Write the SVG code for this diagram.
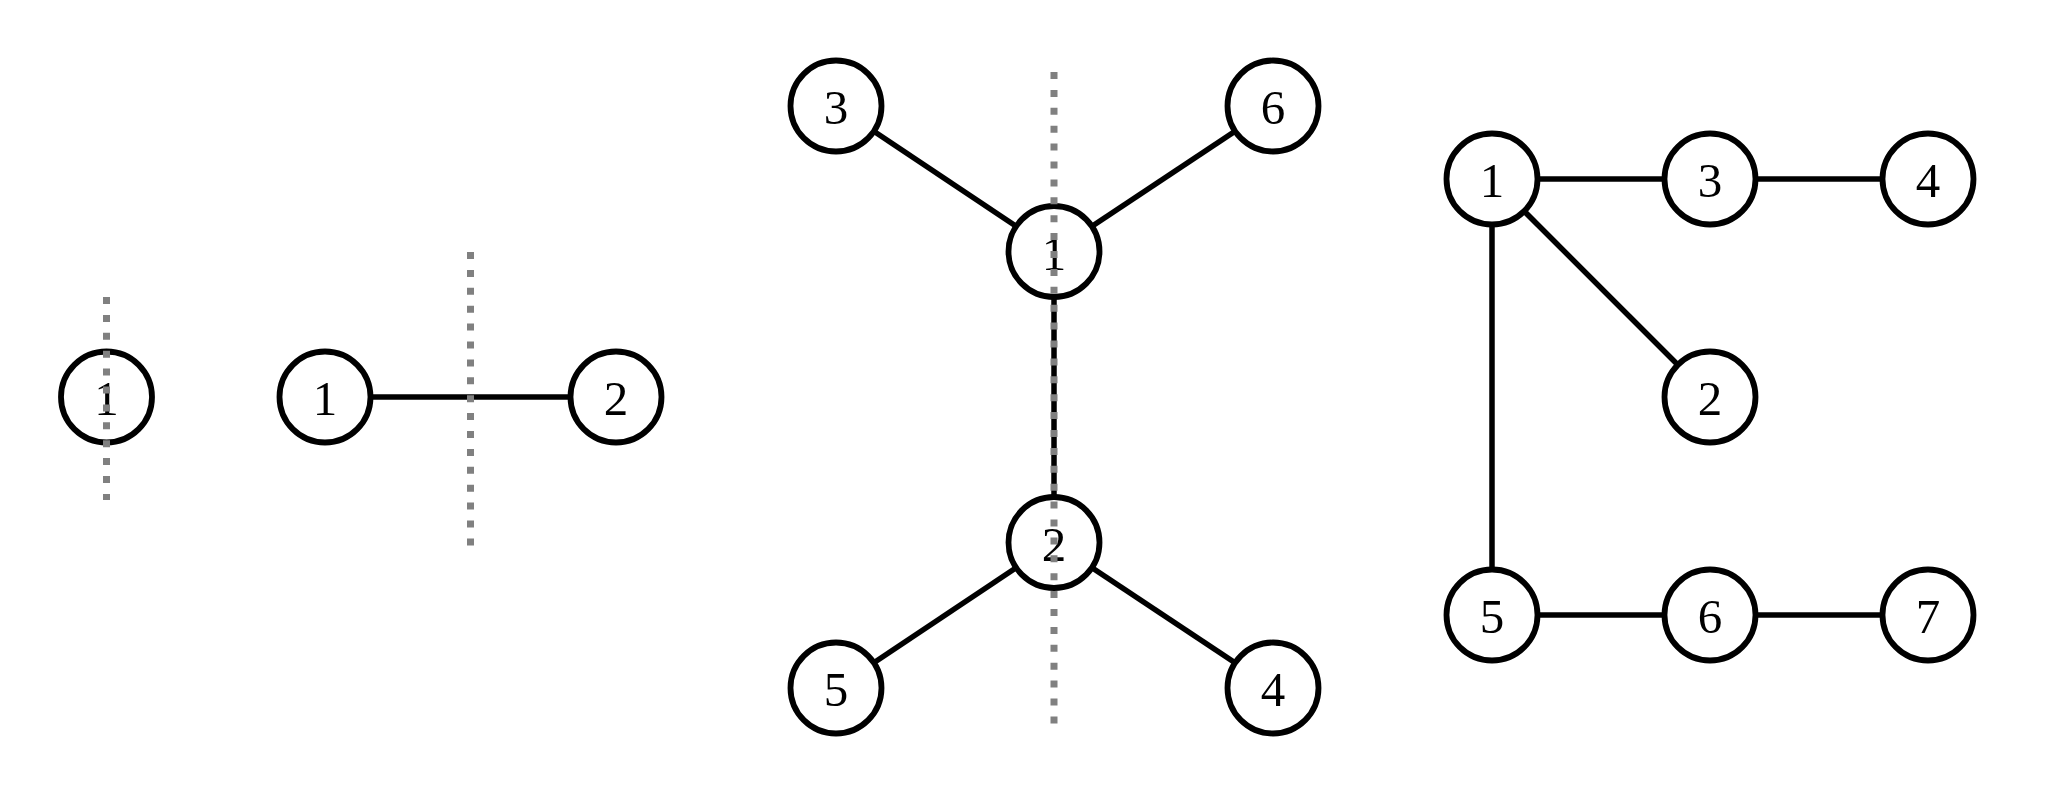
<svg xmlns="http://www.w3.org/2000/svg" width="2048" height="796" viewBox="0 0 2048 796">
<style>
.edge{stroke:#000;stroke-width:5.5;fill:none}
.node circle{fill:#fff;stroke:#000;stroke-width:5.8}
.node text{font-family:"Liberation Serif","DejaVu Serif",serif;font-size:49px;text-anchor:middle;fill:#000}
.cut{stroke:#808080;stroke-width:7;stroke-dasharray:7 10.9;fill:none}
</style>
<rect width="2048" height="796" fill="#fff"/>
<g id="connectors">
<line class="edge" x1="325" y1="397" x2="616" y2="397"/>
<line class="edge" x1="836" y1="106" x2="1054" y2="251.5"/>
<line class="edge" x1="1273" y1="106" x2="1054" y2="251.5"/>
<line class="edge" x1="1054" y1="251.5" x2="1054" y2="542.5"/>
<line class="edge" x1="1054" y1="542.5" x2="836" y2="688"/>
<line class="edge" x1="1054" y1="542.5" x2="1273" y2="688"/>
<line class="edge" x1="1492" y1="179" x2="1710" y2="179"/>
<line class="edge" x1="1710" y1="179" x2="1928" y2="179"/>
<line class="edge" x1="1492" y1="179" x2="1710" y2="397"/>
<line class="edge" x1="1492" y1="179" x2="1492" y2="615"/>
<line class="edge" x1="1492" y1="615" x2="1710" y2="615"/>
<line class="edge" x1="1710" y1="615" x2="1928" y2="615"/>
</g>
<g id="a1" class="node"><circle cx="106.5" cy="397" r="45.5"/><text x="106.5" y="415">1</text></g>
<g id="b1" class="node"><circle cx="325" cy="397" r="45.5"/><text x="325" y="415">1</text></g>
<g id="b2" class="node"><circle cx="616" cy="397" r="45.5"/><text x="616" y="415">2</text></g>
<g id="c3" class="node"><circle cx="836" cy="106" r="45.5"/><text x="836" y="124">3</text></g>
<g id="c6" class="node"><circle cx="1273" cy="106" r="45.5"/><text x="1273" y="124">6</text></g>
<g id="c1" class="node"><circle cx="1054" cy="251.5" r="45.5"/><text x="1054" y="269.5">1</text></g>
<g id="c2" class="node"><circle cx="1054" cy="542.5" r="45.5"/><text x="1054" y="560.5">2</text></g>
<g id="c5" class="node"><circle cx="836" cy="688" r="45.5"/><text x="836" y="706">5</text></g>
<g id="c4" class="node"><circle cx="1273" cy="688" r="45.5"/><text x="1273" y="706">4</text></g>
<g id="d1" class="node"><circle cx="1492" cy="179" r="45.5"/><text x="1492" y="197">1</text></g>
<g id="d3" class="node"><circle cx="1710" cy="179" r="45.5"/><text x="1710" y="197">3</text></g>
<g id="d4" class="node"><circle cx="1928" cy="179" r="45.5"/><text x="1928" y="197">4</text></g>
<g id="d2" class="node"><circle cx="1710" cy="397" r="45.5"/><text x="1710" y="415">2</text></g>
<g id="d5" class="node"><circle cx="1492" cy="615" r="45.5"/><text x="1492" y="633">5</text></g>
<g id="d6" class="node"><circle cx="1710" cy="615" r="45.5"/><text x="1710" y="633">6</text></g>
<g id="d7" class="node"><circle cx="1928" cy="615" r="45.5"/><text x="1928" y="633">7</text></g>
<g id="cuts">
<line class="cut" x1="106.5" y1="297" x2="106.5" y2="500"/>
<line class="cut" x1="470.5" y1="252" x2="470.5" y2="546"/>
<line class="cut" x1="1054" y1="72" x2="1054" y2="726"/>
</g>
</svg>
